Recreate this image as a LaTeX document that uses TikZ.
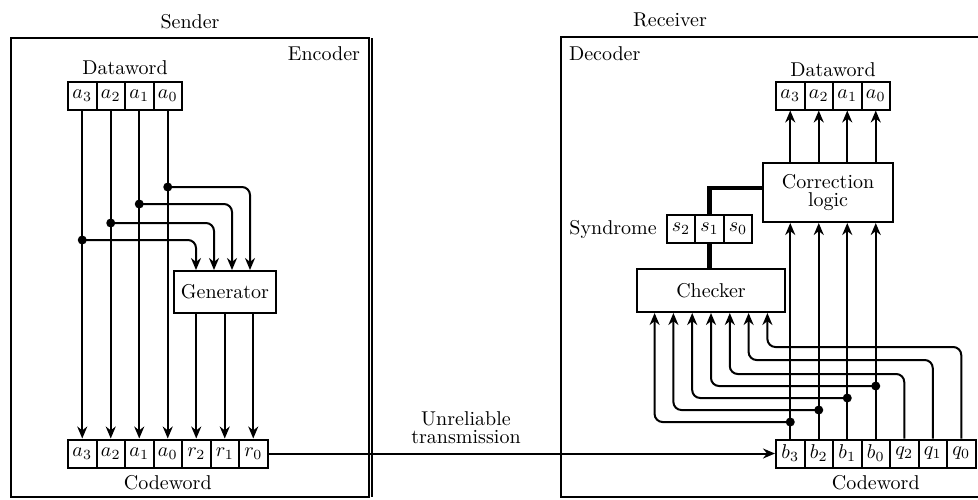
\documentclass[tikz,border=0pt]{standalone}
\usepackage{amsmath}
\usetikzlibrary{arrows.meta,positioning,calc}

\begin{document}
\begin{tikzpicture}[
    x=0.5pt, y=-0.5pt,
    line width=1pt,
    cell/.style={rectangle, draw, line width=1pt, minimum width=14.25pt, minimum height=14pt, inner sep=0pt},
    unit/.style={rectangle, draw, line width=1pt, align=center},
    lbl/.style={inner sep=1pt, align=center},
    arrow/.style={-{Stealth[length=6pt,width=5pt]}, line width=1pt},
    bus/.style={line width=2.4pt},
    dot/.style={circle, fill, inner sep=0pt, minimum size=4.5pt},
    rc/.style={rounded corners=4pt}
  ]
    \useasboundingbox (0,0) rectangle (978,499);

    % sender and receiver frames
    \draw (11,38) rectangle (369,497);
    \draw (372,38) -- (372,497);
    \draw (980,37) -- (561,37) -- (561,497) -- (980,497);
    \node[lbl] (sender) at (190,22) {Sender};
    \node[lbl] (receiver) at (670,20) {Receiver};
    \node[lbl, anchor=north east] (encoder) at (363,44) {Encoder};
    \node[lbl, anchor=north west] (decoder) at (566,44) {Decoder};

    % encoder side
    \foreach \n [count=\i from 0] in {3,2,1,0}
      \node[cell] (da\n) at (82.25+28.5*\i,96) {$a_\n$};
    \foreach \t/\nm [count=\i from 0] in {a_3/ca3,a_2/ca2,a_1/ca1,a_0/ca0,r_2/cr2,r_1/cr1,r_0/cr0}
      \node[cell] (\nm) at (82.25+28.5*\i,453.5) {$\t$};
    \node[lbl] (dwleft) at (125,68) {Dataword};
    \node[lbl, below=2pt of ca0] (cwleft) {Codeword};
    \node[unit, minimum width=50pt, minimum height=21pt] (gen) at (225,292) {Generator};

    \draw[arrow] (da3) -- (ca3);
    \draw[arrow] (da2) -- (ca2);
    \draw[arrow] (da1) -- (ca1);
    \draw[arrow] (da0) -- (ca0);

    \coordinate (j0) at (da0 |- 0,187);
    \coordinate (j1) at (da1 |- 0,204);
    \coordinate (j2) at (da2 |- 0,223);
    \coordinate (j3) at (da3 |- 0,240);
    \foreach \j in {j0,j1,j2,j3} \node[dot] at (\j) {};
    \draw[arrow, rc] (j0) -| ([xshift=12.5pt]gen.north);
    \draw[arrow, rc] (j1) -| ([xshift=3.5pt]gen.north);
    \draw[arrow, rc] (j2) -| ([xshift=-5.5pt]gen.north);
    \draw[arrow, rc] (j3) -| ([xshift=-14.5pt]gen.north);

    \draw[arrow] (gen.south -| cr2) -- (cr2);
    \draw[arrow] (gen.south -| cr1) -- (cr1);
    \draw[arrow] (gen.south -| cr0) -- (cr0);

    % channel
    \node[lbl] (channel) at (466,428) {Unreliable\\[-3pt]transmission};

    % decoder side
    \foreach \n [count=\i from 0] in {3,2,1,0}
      \node[cell] (db\n) at (790.25+28.5*\i,95.5) {$a_\n$};
    \foreach \t/\nm [count=\i from 0] in {b_3/rb3,b_2/rb2,b_1/rb1,b_0/rb0,q_2/rq2,q_1/rq1,q_0/rq0}
      \node[cell] (\nm) at (790.25+28.5*\i,453.5) {$\t$};
    \node[lbl] (dwright) at (833,70) {Dataword};
    \node[lbl, below=2pt of rb0] (cwright) {Codeword};
    \foreach \n [count=\i from 0] in {2,1,0}
      \node[cell] (s\n) at (681+28.5*\i,229) {$s_\n$};
    \node[lbl, left=3pt of s2] (synd) {Syndrome};
    \node[unit, minimum width=65pt, minimum height=29.5pt] (corr) at (828,192.5) {Correction\\[-3pt]logic};
    \node[unit, minimum width=74pt, minimum height=21.5pt] (chk) at (711,290.5) {Checker};

    \draw[arrow] (cr0) -- (rb3);

    \draw[arrow] (rb3) -- (corr.south -| rb3);
    \draw[arrow] (rb2) -- (corr.south -| rb2);
    \draw[arrow] (rb1) -- (corr.south -| rb1);
    \draw[arrow] (rb0) -- (corr.south -| rb0);
    \draw[arrow] (corr.north -| db3) -- (db3);
    \draw[arrow] (corr.north -| db2) -- (db2);
    \draw[arrow] (corr.north -| db1) -- (db1);
    \draw[arrow] (corr.north -| db0) -- (db0);

    \draw[bus] (chk.north -| s1) -- (s1.south);
    \draw[bus] (s1.north) |- ([yshift=2.25pt]corr.west);

    \coordinate (k3) at (rb3 |- 0,422);
    \coordinate (k2) at (rb2 |- 0,410);
    \coordinate (k1) at (rb1 |- 0,398);
    \coordinate (k0) at (rb0 |- 0,386);
    \foreach \k in {k0,k1,k2,k3} \node[dot] at (\k) {};
    \draw[arrow, rc] (k3) -| ([xshift=-28.2pt]chk.south);
    \draw[arrow, rc] (k2) -| ([xshift=-18.8pt]chk.south);
    \draw[arrow, rc] (k1) -| ([xshift=-9.4pt]chk.south);
    \draw[arrow, rc] (k0) -| (chk.south);
    \draw[arrow, rc] (rq2.north) -- (rq2 |- 0,374) -| ([xshift=9.4pt]chk.south);
    \draw[arrow, rc] (rq1.north) -- (rq1 |- 0,360) -| ([xshift=18.8pt]chk.south);
    \draw[arrow, rc] (rq0.north) -- (rq0 |- 0,347) -| ([xshift=28.2pt]chk.south);
  \end{tikzpicture}
\end{document}
